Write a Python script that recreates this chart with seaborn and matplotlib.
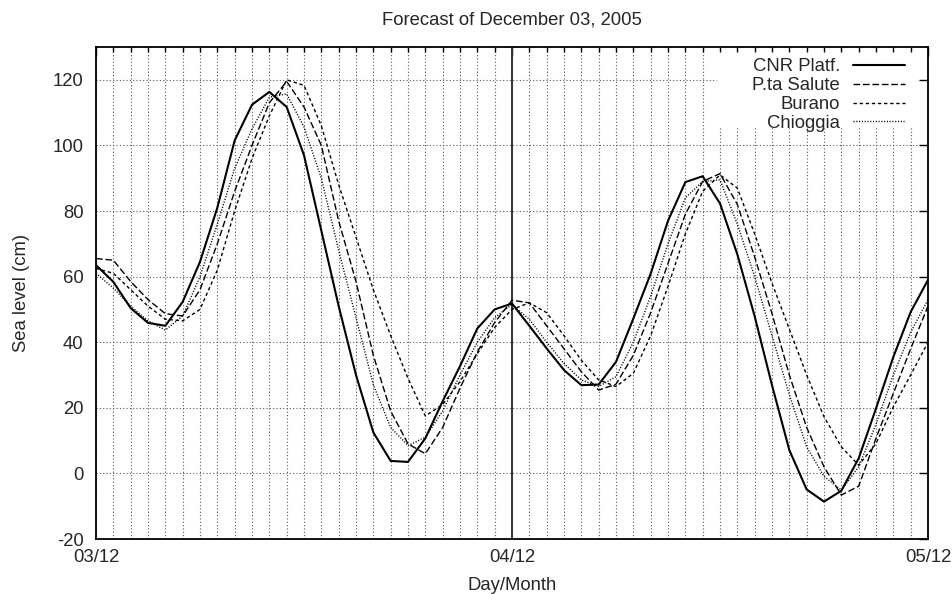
import matplotlib
matplotlib.use("Agg")
import matplotlib.pyplot as plt
from matplotlib.patches import Rectangle
import seaborn as sns

# Hourly forecast, 03/12 00:00 to 05/12 00:00
hours = list(range(49))
day_ticks = [0, 24, 48]
day_labels = ["03/12", "04/12", "05/12"]
level_ticks = [-20, 0, 20, 40, 60, 80, 100, 120]

cnr_platf = [63.5, 58.4, 50.4, 45.9, 45.0, 52.3, 64.5, 81.0, 101.5, 112.4,
             116.3, 111.7, 97.0, 74.0, 51.0, 30.0, 12.5, 3.8, 3.5, 10.7,
             22.0, 32.7, 44.2, 50.0, 51.8, 45.0, 38.1, 31.5, 26.9, 27.1,
             34.0, 47.2, 60.9, 77.0, 88.8, 90.6, 82.3, 66.8, 47.9, 26.9,
             7.1, -4.9, -8.6, -5.3, 4.6, 19.8, 35.5, 49.2, 59.0]
pta_salute = [65.5, 65.0, 58.5, 53.0, 48.7, 48.0, 56.0, 70.0, 86.0, 100.0,
              113.0, 119.5, 111.7, 100.0, 77.0, 58.5, 36.0, 19.0, 9.0, 6.0,
              14.0, 26.0, 37.0, 46.0, 52.8, 52.0, 45.0, 38.0, 31.0, 25.4,
              27.2, 36.0, 49.0, 64.0, 79.0, 89.0, 91.4, 82.0, 66.0, 48.7,
              30.0, 14.0, 2.0, -6.6, -3.9, 10.7, 24.4, 38.0, 51.0]
burano = [62.5, 61.0, 56.0, 51.0, 47.0, 46.5, 50.0, 62.0, 80.0, 96.0,
          109.0, 120.0, 118.3, 106.0, 88.0, 72.0, 56.0, 42.0, 29.0, 17.5,
          21.0, 28.0, 36.5, 44.5, 50.0, 52.0, 49.0, 42.0, 34.5, 28.5,
          26.5, 30.5, 42.0, 57.0, 73.0, 86.0, 91.0, 87.0, 73.0, 58.0,
          44.0, 30.0, 17.3, 8.1, 2.5, 9.1, 20.3, 30.0, 40.0]
chioggia = [61.0, 56.5, 51.0, 46.5, 43.7, 48.0, 60.0, 76.0, 93.0, 105.0,
            114.7, 115.7, 105.6, 90.0, 68.0, 47.5, 27.0, 14.0, 8.5, 11.0,
            19.0, 30.0, 40.0, 47.5, 51.5, 47.0, 40.0, 33.5, 28.5, 26.5,
            29.5, 40.0, 54.0, 70.0, 84.0, 89.0, 89.5, 76.0, 60.0, 42.0,
            24.0, 8.1, -0.9, -5.1, 2.0, 15.0, 30.0, 43.0, 53.0]

station_names = ["CNR Platf.", "P.ta Salute", "Burano", "Chioggia"]
station_levels = [cnr_platf, pta_salute, burano, chioggia]
line_styles = [("-", 1.5), ((0, (4.8, 2.0)), 1.0), ((0, (2.4, 2.0)), 1.0), ((0, (0.8, 1.2)), 1.0)]

sns.set_style("white")
plt.rcParams["font.family"] = ["Liberation Sans", "DejaVu Sans"]
plt.rcParams["font.size"] = 13.3
plt.rcParams["axes.unicode_minus"] = False

W, H = 953, 594
rect = [96 / W, 1 - 539 / H, 832 / W, 492 / H]
fig = plt.figure(figsize=(W / 100, H / 100), dpi=100)
fig.patch.set_facecolor("white")

ax = fig.add_axes(rect)
# grid lives on a background axes so the key box can mask it without hiding ticks
ax_grid = fig.add_axes(rect, sharex=ax, sharey=ax)
ax_grid.set_zorder(0)
ax.set_zorder(1)
ax.patch.set_visible(False)

for name, levels, (ls, lw) in zip(station_names, station_levels, line_styles):
    sns.lineplot(x=hours, y=levels, ax=ax, color="black", label=name, legend=False)
    line = ax.lines[-1]
    line.set_linestyle(ls)
    line.set_linewidth(lw)

ax.set_xlim(0, 48)
ax.set_ylim(-20, 130)
ax.set_xticks(day_ticks)
ax.set_xticklabels(day_labels)
ax.set_xticks(hours, minor=True)
ax.set_yticks(level_ticks)
ax.tick_params(which="both", direction="in", top=True, right=True, color="black")
ax.tick_params(which="major", length=6.5, width=1.0, labelsize=13.3)
ax.tick_params(axis="y", which="major", pad=9)
ax.tick_params(axis="x", which="major", pad=7)
ax.tick_params(which="minor", length=3.3, width=1.0)
for sp in ax.spines.values():
    sp.set_color("black")
    sp.set_linewidth(1.3)

ax_grid.tick_params(which="both", length=0, labelbottom=False, labelleft=False)
for sp in ax_grid.spines.values():
    sp.set_visible(False)
ax_grid.grid(True, which="minor", axis="x", color="0.35", linestyle=(0, (1, 2)), linewidth=0.8)
ax_grid.grid(True, which="major", axis="both", color="0.35", linestyle=(0, (1, 2)), linewidth=0.8)

ax.axvline(24, color="0.2", linewidth=1.4, zorder=1.5)

# white key area
ax.add_patch(Rectangle((0.746, 0.835), 0.254, 0.165, transform=ax.transAxes,
                       facecolor="white", edgecolor="none", zorder=0.3))

ax.legend(loc="upper right", bbox_to_anchor=(0.9724, 0.977), markerfirst=False,
          frameon=False, handlelength=2.83, handletextpad=0.69, labelspacing=0.1,
          borderaxespad=0, borderpad=0, fontsize=13.3)

ax.set_title("Forecast of December 03, 2005", fontsize=13.3, pad=16)
ax.set_xlabel("Day/Month", fontsize=13.3, labelpad=8)
ax.set_ylabel("Sea level (cm)", fontsize=13.3, labelpad=16)

fig.savefig("out.png", dpi=100)
